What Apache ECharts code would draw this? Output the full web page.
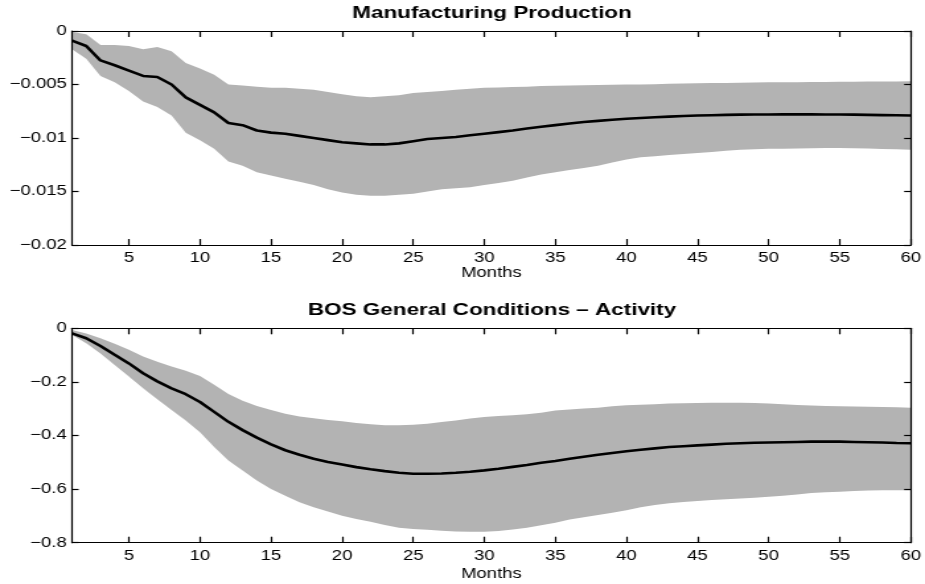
<!DOCTYPE html>
<html>
<head>
<meta charset="utf-8">
<script src="https://cdn.jsdelivr.net/npm/echarts@6/dist/echarts.min.js"></script>
<style>
html,body{margin:0;padding:0;background:#fff;overflow:hidden;}
#c{width:700px;height:584px;transform:scaleX(1.32143);transform-origin:0 0;}
</style>
</head>
<body>
<div id="c"></div>
<script>
// ---------- data ----------
const months = Array.from({length: 60}, (_, i) => i + 1);
const xTickLabels = [5, 10, 15, 20, 25, 30, 35, 40, 45, 50, 55, 60];

const titleTop = 'Manufacturing Production';
const titleBottom = 'BOS General Conditions \u2013 Activity';
const xAxisName = 'Months';

// Manufacturing Production: median response and band
const mpMid = [-0.0009,-0.0014,-0.00275,-0.0032,-0.0037,-0.0042,-0.0043,-0.0050,-0.0062,-0.0069,
  -0.0076,-0.0086,-0.0088,-0.0093,-0.0095,-0.0096,-0.0098,-0.0100,-0.0102,-0.0104,
  -0.0105,-0.0106,-0.0106,-0.0105,-0.0103,-0.0101,-0.0100,-0.0099,-0.00975,-0.0096,
  -0.00945,-0.0093,-0.00912,-0.00895,-0.0088,-0.00865,-0.0085,-0.0084,-0.0083,-0.0082,
  -0.00813,-0.00806,-0.0080,-0.00795,-0.0079,-0.00787,-0.00784,-0.00782,-0.0078,-0.0078,
  -0.00779,-0.00779,-0.00779,-0.0078,-0.0078,-0.00782,-0.00784,-0.00786,-0.00788,-0.0079];
const mpUpper = [-0.0001,-0.0003,-0.0013,-0.0013,-0.0014,-0.0017,-0.0015,-0.0019,-0.0030,-0.0035,
  -0.0041,-0.0050,-0.0051,-0.0052,-0.0053,-0.0053,-0.0054,-0.0055,-0.0057,-0.0059,
  -0.0061,-0.0062,-0.0061,-0.0060,-0.0058,-0.0057,-0.0056,-0.0055,-0.0054,-0.0053,
  -0.00528,-0.00524,-0.0052,-0.00515,-0.00512,-0.0051,-0.00508,-0.00505,-0.00503,-0.0050,
  -0.0050,-0.00497,-0.00494,-0.00491,-0.00489,-0.00487,-0.00485,-0.00483,-0.00481,-0.0048,
  -0.00479,-0.00478,-0.00477,-0.00476,-0.00475,-0.00474,-0.00473,-0.00472,-0.00471,-0.0047];
const mpLower = [-0.0017,-0.0026,-0.0042,-0.0048,-0.0056,-0.0066,-0.0071,-0.0079,-0.0095,-0.0102,
  -0.0110,-0.0122,-0.0126,-0.0132,-0.0135,-0.0138,-0.0141,-0.0144,-0.0148,-0.0151,
  -0.0153,-0.0154,-0.0154,-0.0153,-0.0152,-0.0150,-0.0148,-0.0147,-0.0146,-0.0144,
  -0.0142,-0.0140,-0.0137,-0.0134,-0.0132,-0.0130,-0.0128,-0.0126,-0.0123,-0.0120,
  -0.0118,-0.0117,-0.0116,-0.0115,-0.0114,-0.0113,-0.0112,-0.0111,-0.01105,-0.0110,
  -0.0110,-0.01098,-0.01096,-0.01094,-0.01094,-0.01096,-0.01099,-0.01102,-0.01106,-0.0111];

// BOS General Conditions - Activity
const bosMid = [-0.019,-0.037,-0.066,-0.099,-0.131,-0.168,-0.198,-0.224,-0.246,-0.275,
  -0.312,-0.349,-0.380,-0.408,-0.433,-0.455,-0.472,-0.487,-0.499,-0.508,
  -0.518,-0.526,-0.533,-0.539,-0.543,-0.543,-0.542,-0.539,-0.535,-0.530,
  -0.524,-0.517,-0.510,-0.502,-0.495,-0.487,-0.479,-0.472,-0.465,-0.459,
  -0.453,-0.448,-0.443,-0.440,-0.437,-0.434,-0.431,-0.429,-0.427,-0.426,
  -0.425,-0.424,-0.423,-0.423,-0.423,-0.424,-0.425,-0.426,-0.428,-0.429];
const bosUpper = [-0.006,-0.019,-0.037,-0.058,-0.080,-0.105,-0.125,-0.143,-0.158,-0.178,
  -0.211,-0.245,-0.270,-0.290,-0.305,-0.319,-0.329,-0.336,-0.342,-0.347,
  -0.353,-0.358,-0.362,-0.362,-0.360,-0.356,-0.350,-0.344,-0.337,-0.331,
  -0.327,-0.324,-0.321,-0.315,-0.307,-0.303,-0.299,-0.296,-0.291,-0.287,
  -0.285,-0.283,-0.281,-0.280,-0.279,-0.278,-0.278,-0.278,-0.279,-0.281,
  -0.283,-0.286,-0.288,-0.290,-0.291,-0.292,-0.293,-0.294,-0.295,-0.296];
const bosLower = [-0.025,-0.056,-0.094,-0.137,-0.180,-0.224,-0.265,-0.305,-0.344,-0.388,
  -0.443,-0.493,-0.531,-0.568,-0.600,-0.625,-0.649,-0.668,-0.684,-0.699,
  -0.712,-0.722,-0.734,-0.744,-0.749,-0.752,-0.755,-0.758,-0.759,-0.759,
  -0.756,-0.751,-0.744,-0.735,-0.726,-0.713,-0.705,-0.697,-0.688,-0.679,
  -0.668,-0.659,-0.653,-0.648,-0.644,-0.641,-0.638,-0.635,-0.632,-0.629,
  -0.625,-0.620,-0.615,-0.612,-0.610,-0.607,-0.605,-0.604,-0.604,-0.604];

const yTopTicks = {min: -0.02, max: 0, interval: 0.005};
const yBotTicks = {min: -0.8, max: 0, interval: 0.2};

// ---------- chart ----------
const FONT = '"Liberation Sans", Arial, Helvetica, sans-serif';
const BAND = '#b3b3b3';
const chart = echarts.init(document.getElementById('c'), null, {renderer: 'canvas'});

const gridLeft = 54.5, gridWidth = 635.7;
const showTick = (idx) => xTickLabels.indexOf(months[idx]) >= 0;
const fmtY = (v) => {
  const r = +(+v).toFixed(6);
  if (r === 0) return '0';
  return (r < 0 ? '\u2212' : '') + String(Math.abs(r));
};

function xAxes(gridIndex, nameGap) {
  const common = {
    type: 'category', data: months, boundaryGap: false, gridIndex, z: 10,
    axisLine: {show: true, onZero: false, lineStyle: {color: '#000', width: 1.2}},
    axisTick: {show: true, inside: true, length: 6, interval: showTick, lineStyle: {color: '#000', width: 1.2}},
    splitLine: {show: false}
  };
  return [
    Object.assign({}, common, {
      position: 'bottom', name: xAxisName, nameLocation: 'middle', nameGap,
      nameTextStyle: {fontFamily: FONT, fontSize: 14, color: '#000'},
      axisLabel: {show: true, interval: showTick, margin: 6, fontFamily: FONT, fontSize: 14, color: '#000'}
    }),
    Object.assign({}, common, {position: 'top', axisLabel: {show: false}})
  ];
}
function yAxes(gridIndex, t) {
  const common = {
    type: 'value', gridIndex, min: t.min, max: t.max, interval: t.interval, z: 10,
    axisLine: {show: true, onZero: false, lineStyle: {color: '#000', width: 1.2}},
    axisTick: {show: true, inside: true, length: 5, lineStyle: {color: '#000', width: 1.2}},
    splitLine: {show: false}
  };
  return [
    Object.assign({}, common, {position: 'left',
      axisLabel: {show: true, margin: 4, formatter: fmtY, fontFamily: FONT, fontSize: 14, color: '#000'}}),
    Object.assign({}, common, {position: 'right', axisLabel: {show: false}})
  ];
}
function bandSeries(xi, yi, lower, upper, mid, key) {
  return [
    {type: 'line', xAxisIndex: xi, yAxisIndex: yi, data: lower, stack: key, stackStrategy: 'all',
     symbol: 'none', lineStyle: {width: 0, opacity: 0}, silent: true, z: 1},
    {type: 'line', xAxisIndex: xi, yAxisIndex: yi, data: upper.map((u, i) => u - lower[i]),
     stack: key, stackStrategy: 'all', symbol: 'none', lineStyle: {width: 0, opacity: 0},
     areaStyle: {color: BAND, opacity: 1}, silent: true, z: 1},
    {type: 'line', xAxisIndex: xi, yAxisIndex: yi, data: mid, symbol: 'none',
     lineStyle: {color: '#000', width: 2.6}, z: 3}
  ];
}

const titleX = gridLeft + gridWidth / 2;
chart.setOption({
  animation: false,
  backgroundColor: '#fff',
  graphic: [
    {type: 'text', x: titleX, y: 13, style: {text: titleTop, font: 'bold 17px ' + FONT, fill: '#000', align: 'center', verticalAlign: 'middle'}},
    {type: 'text', x: titleX, y: 310.7, style: {text: titleBottom, font: 'bold 17px ' + FONT, fill: '#000', align: 'center', verticalAlign: 'middle'}}
  ],
  grid: [
    {left: gridLeft, width: gridWidth, top: 31, height: 214},
    {left: gridLeft, width: gridWidth, top: 328.3, height: 214.4}
  ],
  xAxis: [].concat(xAxes(0, 18), xAxes(1, 24)),
  yAxis: [].concat(yAxes(0, yTopTicks), yAxes(1, yBotTicks)),
  series: [].concat(
    bandSeries(0, 0, mpLower, mpUpper, mpMid, 'mp'),
    bandSeries(2, 2, bosLower, bosUpper, bosMid, 'bos')
  )
});
</script>
</body>
</html>
